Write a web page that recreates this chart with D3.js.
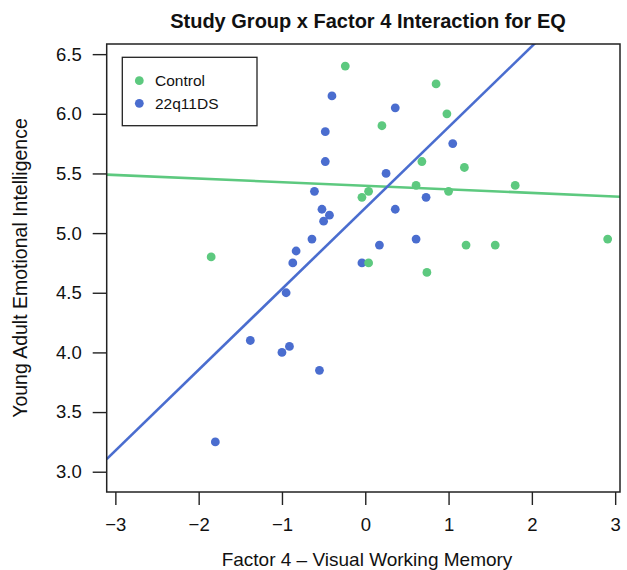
<!DOCTYPE html>
<html>
<head>
<meta charset="utf-8">
<script src="https://cdn.jsdelivr.net/npm/d3@7"></script>
<style>
  html, body { margin: 0; padding: 0; background: #fff; }
  svg { display: block; }
  text { font-family: "Liberation Sans", Arial, Helvetica, sans-serif; fill: #111; }
</style>
</head>
<body>
<svg id="chart" width="627" height="570"></svg>
<script>
// ---- data ----
const controlX = [-0.24, 0.85, 0.98, 0.20, 0.68, 1.19, 0.61, 1.80, 0.04, -0.04, 1.00, 2.91, 1.21, 1.56, 0.04, 0.74, -1.85];
const controlY = [6.40, 6.25, 6.00, 5.90, 5.60, 5.55, 5.40, 5.40, 5.35, 5.30, 5.35, 4.95, 4.90, 4.90, 4.75, 4.67, 4.80];
const dsX = [-0.40, -0.48, -0.48, -0.61, -0.52, -0.43, -0.50, -0.64, -0.83, -0.87, 0.36, 1.05, 0.25, 0.73, 0.36, 0.61, 0.17, -0.04, -0.95, -1.38, -0.91, -1.00, -0.55, -1.80];
const dsY = [6.15, 5.85, 5.60, 5.35, 5.20, 5.15, 5.10, 4.95, 4.85, 4.75, 6.05, 5.75, 5.50, 5.30, 5.20, 4.95, 4.90, 4.75, 4.50, 4.10, 4.05, 4.00, 3.85, 3.25];
const groupNames = ["Control", "22q11DS"];
const fitIntercepts = [5.397, 5.21];
const fitSlopes = [-0.030, 0.678];
const xTicks = [-3, -2, -1, 0, 1, 2, 3];
const yTicks = [3.0, 3.5, 4.0, 4.5, 5.0, 5.5, 6.0, 6.5];
const titleText = "Study Group x Factor 4 Interaction for EQ";
const xLabel = "Factor 4 \u2013 Visual Working Memory";
const yLabel = "Young Adult Emotional Intelligence";

(function () {
// ---- layout ----
const colors = ["#5dc97f", "#4a6dcf"];
const pLeft = 106.7, pRight = 620, pTop = 44, pBottom = 492;
const svg = d3.select("#chart");

const x = d3.scaleLinear().domain([-3.104, 3.058]).range([pLeft, pRight]);
const y = d3.scaleLinear().domain([2.830, 6.585]).range([pBottom, pTop]);

svg.append("defs").append("clipPath").attr("id", "plotclip")
  .append("rect").attr("x", pLeft).attr("y", pTop)
  .attr("width", pRight - pLeft).attr("height", pBottom - pTop);

// axes
const fmtX = d => (d < 0 ? "\u2212" + Math.abs(d) : String(d));
const xAxis = svg.append("g").attr("transform", `translate(0,${pBottom})`)
  .call(d3.axisBottom(x).tickValues(xTicks).tickFormat(fmtX).tickSize(13).tickPadding(13));
const yAxis = svg.append("g").attr("transform", `translate(${pLeft},0)`)
  .call(d3.axisLeft(y).tickValues(yTicks).tickFormat(d3.format(".1f")).tickSize(14).tickPadding(11));
[xAxis, yAxis].forEach(g => {
  g.select(".domain").remove();
  g.selectAll(".tick line").attr("stroke", "#222").attr("stroke-width", 1.4);
  g.selectAll(".tick text").attr("font-size", 18.5).attr("fill", "#111")
    .style("font-family", '"Liberation Sans", Arial, sans-serif');
});

// points
const groups = [
  { xs: controlX, ys: controlY },
  { xs: dsX, ys: dsY }
];
const plot = svg.append("g").attr("clip-path", "url(#plotclip)");
[1, 0].forEach(gi => {
  const g = groups[gi];
  plot.append("g").selectAll("circle")
    .data(g.xs.map((v, i) => [v, g.ys[i]]))
    .join("circle")
    .attr("cx", d => x(d[0])).attr("cy", d => y(d[1]))
    .attr("r", 4.4).attr("fill", colors[gi]);
});

// fitted lines
[0, 1].forEach(gi => {
  const [x0, x1] = x.domain();
  plot.append("line")
    .attr("x1", x(x0)).attr("y1", y(fitIntercepts[gi] + fitSlopes[gi] * x0))
    .attr("x2", x(x1)).attr("y2", y(fitIntercepts[gi] + fitSlopes[gi] * x1))
    .attr("stroke", colors[gi]).attr("stroke-width", 2.6);
});

// box
svg.append("rect").attr("x", pLeft).attr("y", pTop)
  .attr("width", pRight - pLeft).attr("height", pBottom - pTop)
  .attr("fill", "none").attr("stroke", "#222").attr("stroke-width", 1.5);

// legend
const lg = svg.append("g");
lg.append("rect").attr("x", 122.3).attr("y", 57.3).attr("width", 134.7).attr("height", 68.4)
  .attr("fill", "#fff").attr("stroke", "#222").attr("stroke-width", 1.3);
groupNames.forEach((name, i) => {
  const cy = 80.7 + i * 22.6;
  lg.append("circle").attr("cx", 139.3).attr("cy", cy).attr("r", 4.4).attr("fill", colors[i]);
  lg.append("text").attr("x", 155).attr("y", cy).attr("dy", "0.36em")
    .attr("font-size", 15.5).text(name);
});

// title & labels
svg.append("text").attr("x", 368).attr("y", 28).attr("text-anchor", "middle")
  .attr("font-size", 20).attr("font-weight", "bold").text(titleText);
svg.append("text").attr("x", 367).attr("y", 566).attr("text-anchor", "middle")
  .attr("font-size", 19).text(xLabel);
svg.append("text").attr("transform", `translate(27,${(pTop + pBottom) / 2}) rotate(-90)`)
  .attr("text-anchor", "middle").attr("font-size", 19.5).text(yLabel);
})();
</script>
</body>
</html>
